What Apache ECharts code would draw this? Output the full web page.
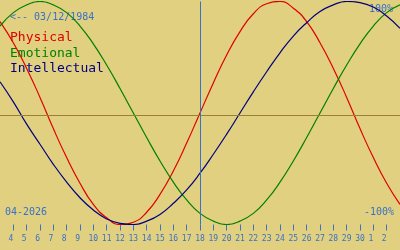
<!DOCTYPE html>
<html>
<head>
<meta charset="utf-8">
<script src="https://cdn.jsdelivr.net/npm/echarts@6/dist/echarts.min.js"></script>
<style>
html,body{margin:0;padding:0;background:#e0d080;}
#chart{width:400px;height:250px;}
</style>
</head>
<body>
<div id="chart"></div>
<script>
// Day of the view (April 2026, continuing into May: 31 = May 1 ...)
const days = [3,4,5,6,7,8,9,10,11,12,13,14,15,16,17,18,19,20,21,22,23,24,25,26,27,28,29,30,31,32,33];
const physical = [82,63,40,14,-14,-40,-63,-82,-94,-100,-98,-89,-73,-52,-27,0,27,52,73,89,98,100,94,82,63,40,14,-14,-40,-63,-82];
const emotional = [78,90,97,100,97,90,78,62,43,22,0,-22,-43,-62,-78,-90,-97,-100,-97,-90,-78,-62,-43,-22,0,22,43,62,78,90,97];
const intellectual = [28,10,-10,-28,-46,-62,-76,-87,-95,-99,-100,-97,-91,-81,-69,-54,-37,-19,0,19,37,54,69,81,91,97,100,99,95,87,76];
const tickDays = [4,5,6,7,8,9,10,11,12,13,14,15,16,17,18,19,20,21,22,23,24,25,26,27,28,29,30,31,32];
const tickLabels = ['4','5','6','7','8','9','10','11','12','13','14','15','16','17','18','19','20','21','22','23','24','25','26','27','28','29','30','1','2'];
const seriesNames = ['Physical','Emotional','Intellectual'];
const todayDay = 18;
const birthText = '<-- 03/12/1984';
const monthText = '04-2026';
const topText = '100%';
const bottomText = '-100%';
const baselineValue = -1.8;

const colors = ['#e00000','#008000','#000080'];
const blue = '#3a70c8';
const mono = '"DejaVu Sans Mono", monospace';

const chart = echarts.init(document.getElementById('chart'), null, {renderer:'canvas'});
const mk = (arr) => days.map((d,i) => [d, arr[i]]);

chart.setOption({
  backgroundColor: '#e0d080',
  animation: false,
  grid: {left: 0, right: 0, top: 1.5, height: 223},
  xAxis: {
    type: 'value', min: 3, max: 33, position: 'bottom',
    splitLine: {show:false},
    axisLine: {show:false, onZero:false},
    axisTick: {show:true, length:6, customValues: tickDays, lineStyle:{color: blue, width:1}},
    axisLabel: {
      show:true, customValues: tickDays, margin: 10,
      color: blue, fontFamily: mono, fontSize: 8,
      formatter: (v) => { const s = tickLabels[tickDays.indexOf(v)]; return s.length === 1 ? s + ' ' : s; }
    }
  },
  yAxis: {type:'value', min:-100, max:100, show:false, splitLine:{show:false}},
  series: [
    {name: seriesNames[0], type:'line', data: mk(physical), smooth:true, showSymbol:false,
     lineStyle:{color:colors[0], width:1.2}, itemStyle:{color:colors[0]}, z:3,
     markLine: {silent:true, symbol:'none', label:{show:false},
       data:[{yAxis: baselineValue, lineStyle:{color:'#9a8030', width:1, type:'solid'}},
             {xAxis: todayDay, lineStyle:{color:blue, width:1, type:'solid'}}]}},
    {name: seriesNames[1], type:'line', data: mk(emotional), smooth:true, showSymbol:false,
     lineStyle:{color:colors[1], width:1.2}, itemStyle:{color:colors[1]}, z:3},
    {name: seriesNames[2], type:'line', data: mk(intellectual), smooth:true, showSymbol:false,
     lineStyle:{color:colors[2], width:1.2}, itemStyle:{color:colors[2]}, z:3}
  ],
  graphic: [
    {type:'text', left: 10, top: 12, style:{text: birthText, fill: blue, font: '10px ' + mono}},
    {type:'text', left: 10, top: 31, style:{text: seriesNames[0], fill: colors[0], font: '13px ' + mono}},
    {type:'text', left: 10, top: 47, style:{text: seriesNames[1], fill: colors[1], font: '13px ' + mono}},
    {type:'text', left: 10, top: 62, style:{text: seriesNames[2], fill: colors[2], font: '13px ' + mono}},
    {type:'text', right: 7, top: 4, style:{text: topText, fill: blue, font: '10px ' + mono}},
    {type:'text', right: 6, top: 207, style:{text: bottomText, fill: blue, font: '10px ' + mono}},
    {type:'text', left: 5, top: 207, style:{text: monthText, fill: blue, font: '10px ' + mono}}
  ]
});
</script>
</body>
</html>
